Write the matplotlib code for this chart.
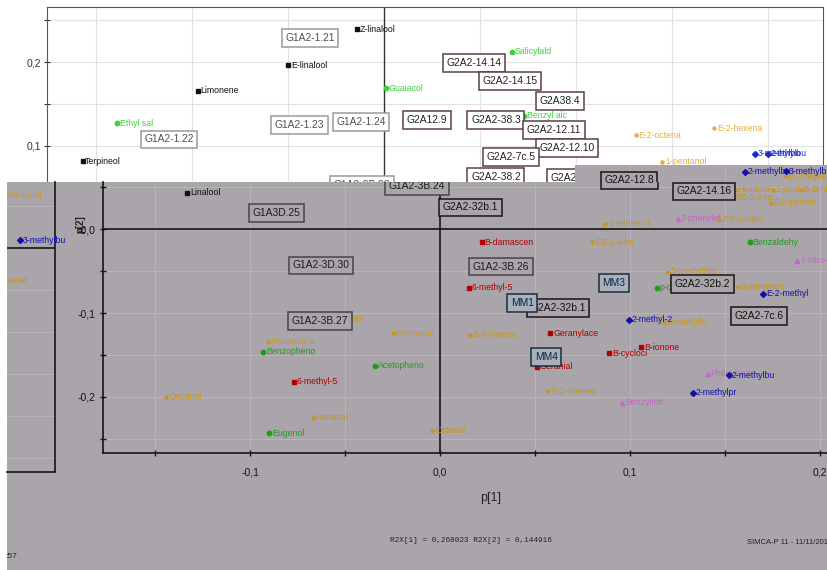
import matplotlib
matplotlib.use('Agg')
import matplotlib.pyplot as plt
from matplotlib.patches import Rectangle
from matplotlib.transforms import Bbox, TransformedBbox
from matplotlib import font_manager

W, H = 828, 570
GRAY = '#aaa5ab'
GRID_GRAY = '#b9b4ba'

# narrowest sans family on the machine
installed = {f.name for f in font_manager.fontManager.ttflist}
FACE = next((f for f in ['Liberation Sans Narrow', 'Arial Narrow', 'Liberation Sans']
             if f in installed), 'DejaVu Sans')
plt.rcParams['font.family'] = [FACE, 'DejaVu Sans']

# ---- main loading window p[1] / p[2] ----
main_black_names = ['Linalool']
main_black_x = [-0.133]
main_black_y = [0.043]

main_orange_names = ['Hexanal', '1-penten-3', '2-pentylfu', 'EE-2,4-he', 'E-2-penten',
                     'E-2-hepten', 'Z-2-penten', '1-penten-3', 'EZ-2,4-he', '3-methylthio',
                     '3-pentanon', '2-methylfu', 'Z-3-hexena', 'Pentanoic', 'Hexanoic a',
                     '2-ethylhex', 'Decanal', 'Nonanal', 'Octanal', 'E-2-nonena']
main_orange_x = [0.155, 0.175, 0.190, 0.154, 0.174,
                 0.182, 0.147, 0.087, 0.080, 0.120,
                 0.157, 0.118, 0.016, -0.025, -0.0905,
                 -0.062, -0.144, -0.067, -0.004, 0.057]
main_orange_y = [0.047, 0.047, 0.047, 0.038, 0.031,
                 0.063, 0.011, 0.006, -0.0155, -0.051,
                 -0.069, -0.111, -0.126, -0.124, -0.1345,
                 -0.106, -0.200, -0.225, -0.2405, -0.193]

main_green_names = ['Benzaldehy', 'p-cymene', 'Benzopheno', 'Acetopheno', 'Eugenol']
main_green_x = [0.163, 0.114, -0.093, -0.034, -0.090]
main_green_y = [-0.0155, -0.070, -0.146, -0.163, -0.243]

main_red_names = ['B-damascen', '6-methyl-5', 'Geranylace', 'B-ionone', 'B-cycloci',
                  'Geranial', '6-methyl-5']
main_red_x = [0.022, 0.015, 0.058, 0.106, 0.089, 0.051, -0.077]
main_red_y = [-0.0155, -0.070, -0.124, -0.1405, -0.148, -0.164, -0.182]

main_pink_names = ['2-phenylet', '1-nitro-2', 'Phenylace', 'Benzylnitr']
main_pink_x = [0.125, 0.188, 0.141, 0.096]
main_pink_y = [0.012, -0.038, -0.1726, -0.207]

main_blue_names = ['E-2-methyl', '2-methyl-2', '2-methylbu', '2-methylpr', '2-methylbu',
                   '3-methylbu']
main_blue_x = [0.170, 0.0995, 0.152, 0.133, 0.1605, 0.182]
main_blue_y = [-0.077, -0.108, -0.174, -0.195, 0.068, 0.069]

main_g2_names = ['G2A2-14.16', 'G2A2-32b.1', 'G2A2-32b.2', 'G2A2-32b.1', 'G2A2-7c.6', 'G2A2-12.8']
main_g2_x = [0.139, 0.016, 0.138, 0.062, 0.168, 0.0995]
main_g2_y = [0.045, 0.026, -0.0655, -0.094, -0.1036, 0.058]

main_g1_names = ['G1A2-3B.24', 'G1A3D.25', 'G1A2-3D.30', 'G1A2-3B.26', 'G1A2-3B.27']
main_g1_x = [-0.0121, -0.0863, -0.0626, 0.0321, -0.0632]
main_g1_y = [0.0512, 0.019, -0.043, -0.045, -0.1095]

main_mm_names = ['MM3', 'MM1', 'MM4']
main_mm_x = [0.0916, 0.0432, 0.0558]
main_mm_y = [-0.0643, -0.0881, -0.1524]

# ---- upper window ----
top_black_names = ['Z-linalool', 'E-linalool', 'Limonene', 'Terpineol']
top_black_x = [-0.014, -0.050, -0.097, -0.157]
top_black_y = [0.239, 0.196, 0.1655, 0.082]

top_green_names = ['Guaiacol', 'Ethyl sal', 'Methyl sal', 'Salicylald', 'Benzyl alc']
top_green_x = [0.001, -0.139, -0.1255, 0.0667, 0.073]
top_green_y = [0.169, 0.127, 0.112, 0.212, 0.136]

top_orange_names = ['E-2-octena', 'E-2-hexena', '1-pentanol']
top_orange_x = [0.131, 0.172, 0.145]
top_orange_y = [0.113, 0.121, 0.081]

top_blue_names = ['3-methylbu', '2-ethylbu']
top_blue_x = [0.193, 0.200]
top_blue_y = [0.0905, 0.0905]

top_g1_names = ['G1A2-1.21', 'G1A2-1.22', 'G1A2-1.23', 'G1A2-1.24', 'G1A2-3B.28']
top_g1_x = [-0.0385, -0.112, -0.044, -0.012, -0.0115]
top_g1_y = [0.2286, 0.108, 0.125, 0.1286, 0.0536]

top_g2_names = ['G2A2-14.14', 'G2A2-14.15', 'G2A12.9', 'G2A2-38.3', 'G2A38.4',
                'G2A2-12.11', 'G2A2-12.10', 'G2A2-7c.5', 'G2A2-38.2', 'G2A2-12.9']
top_g2_x = [0.0469, 0.0656, 0.0224, 0.0583, 0.0917, 0.0885, 0.0953, 0.0661, 0.0583, 0.0995]
top_g2_y = [0.1988, 0.1774, 0.131, 0.131, 0.1536, 0.119, 0.0976, 0.0869, 0.0631, 0.0619]

# ---- left window ----
left_orange_names = ['Pentanal', 'Nonanal']
left_orange_x = [0.1639, 0.1566]
left_orange_y = [0.0631, -0.0381]
left_blue_names = ['3-methylbu']
left_blue_x = [0.1718]
left_blue_y = [0.0095]


def px_box(x0, y0, x1, y1):
    return [x0 / W, 1 - y1 / H, (x1 - x0) / W, (y1 - y0) / H]


def put_points(ax, xs, ys, names, color, marker, ms, fs=6.3):
    ax.plot(xs, ys, ls='none', marker=marker, ms=ms, color=color, mec=color, zorder=3)
    for x, y, n in zip(xs, ys, names):
        ax.annotate(n, (x, y), xytext=(2.0, 0), textcoords='offset points',
                    ha='left', va='center', fontsize=fs, color=color,
                    clip_on=True, annotation_clip=False, zorder=3)


def put_boxes(ax, xs, ys, names, fc, ec, tc, fs=7.4):
    for x, y, n in zip(xs, ys, names):
        ax.text(x, y, n, ha='center', va='center', fontsize=fs, color=tc, clip_on=True,
                zorder=4, bbox=dict(boxstyle='square,pad=0.35', fc=fc, ec=ec, lw=1.1))


def grid_lines(ax, xs, ys, color, lw=0.8):
    for v in xs:
        ax.axvline(v, color=color, lw=lw, zorder=1)
    for v in ys:
        ax.axhline(v, color=color, lw=lw, zorder=1)


def draw_main(ax):
    grid_lines(ax, [-0.15, -0.1, -0.05, 0.05, 0.1, 0.15, 0.2],
               [-0.25, -0.2, -0.15, -0.1, -0.05, 0.05], GRID_GRAY)
    ax.axhline(0, color='#151515', lw=1.2, zorder=2)
    ax.axvline(0, color='#151515', lw=1.2, zorder=2)
    put_points(ax, main_orange_x, main_orange_y, main_orange_names, '#c8961c', 'o', 2.2)
    put_points(ax, main_black_x, main_black_y, main_black_names, '#111111', 's', 3)
    put_points(ax, main_green_x, main_green_y, main_green_names, '#1c9e1c', 'o', 3.2)
    put_points(ax, main_red_x, main_red_y, main_red_names, '#b00000', 's', 3)
    put_points(ax, main_pink_x, main_pink_y, main_pink_names, '#c068c4', '^', 3)
    put_points(ax, main_blue_x, main_blue_y, main_blue_names, '#1010a8', 'D', 3)
    put_boxes(ax, main_g1_x, main_g1_y, main_g1_names, GRAY, '#4a4448', '#1a1a1a')
    put_boxes(ax, main_g2_x, main_g2_y, main_g2_names, GRAY, '#1e1212', '#111111')
    put_boxes(ax, main_mm_x, main_mm_y, main_mm_names, '#a7b1bc', '#1c2c3c', '#0e2440')


fig = plt.figure(figsize=(W / 100, H / 100), dpi=100)
fig.patch.set_facecolor('white')

# upper white window
ax_top = fig.add_axes(px_box(47, 7, 823, 182), zorder=0)
ax_top.set_xlim(-0.1755, 0.2286)
ax_top.set_ylim(0.0571, 0.2655)
ax_top.set_facecolor('white')
grid_lines(ax_top, [-0.15, -0.1, -0.05, 0.05, 0.1, 0.15, 0.2], [0.1, 0.15, 0.2, 0.25], '#e2e2e2')
ax_top.axvline(0, color='#333333', lw=1.0, zorder=2)
put_points(ax_top, top_black_x, top_black_y, top_black_names, '#111111', 's', 3)
put_points(ax_top, top_green_x, top_green_y, top_green_names, '#3cd43c', 'o', 3.2)
put_points(ax_top, top_orange_x, top_orange_y, top_orange_names, '#e0b048', 'o', 2.2)
put_points(ax_top, top_blue_x, top_blue_y, top_blue_names, '#1a2cc8', 'D', 3)
put_boxes(ax_top, top_g1_x, top_g1_y, top_g1_names, 'white', '#9a9a9a', '#505050')
put_boxes(ax_top, top_g2_x, top_g2_y, top_g2_names, 'white', '#5a4040', '#222222')
ax_top.set_xticks([])
ax_top.set_yticks([0.1, 0.15, 0.2, 0.25], ['0,1', '', '0,2', ''])
ax_top.tick_params(axis='y', direction='inout', length=4, pad=2, labelsize=7.5, colors='#333333')
ax_top.spines['bottom'].set_visible(False)
for s in ['top', 'left', 'right']:
    ax_top.spines[s].set_color('#555555')

# gray backdrop and footer
ax_bg = fig.add_axes([0, 0, 1, 1], zorder=1)
ax_bg.set_xlim(0, W)
ax_bg.set_ylim(H, 0)
ax_bg.set_axis_off()
ax_bg.add_patch(Rectangle((7, 182), W - 7, H - 182, fc=GRAY, ec='none'))
ax_bg.text(491, 498, 'p[1]', ha='center', va='center', fontsize=9, color='#222222')
ax_bg.text(80, 224, 'p[2]', ha='center', va='center', fontsize=7, rotation=90,
           color='#222222', fontweight='bold')
ax_bg.text(390, 540, 'R2X[1] = 0,268023 R2X[2] = 0,144916', ha='left', va='center',
           fontsize=5.6, family=['Liberation Mono', 'DejaVu Sans Mono'], color='#222222')
ax_bg.text(747, 543, 'SIMCA-P 11 - 11/11/2016 16:57', ha='left', va='center',
           fontsize=5.5, color='#222222')
ax_bg.text(5, 557, ':57', ha='left', va='center', fontsize=6, color='#222222')

# left side window
ax_left = fig.add_axes(px_box(7, 182, 55, 472), zorder=2)
ax_left.set_facecolor('none')
ax_left.set_xlim(0.165, 0.1903)
ax_left.set_ylim(-0.2667, 0.0786)
grid_lines(ax_left, [], [-0.25, -0.2, -0.15, -0.1, -0.05, 0.05], GRID_GRAY)
ax_left.axhline(0, color='#151515', lw=1.2, zorder=2)
put_points(ax_left, left_orange_x, left_orange_y, left_orange_names, '#c8961c', 'o', 2.2)
put_points(ax_left, left_blue_x, left_blue_y, left_blue_names, '#1010a8', 'D', 3)
# labels here run over the right frame, only the left edge cuts them
left_clip = TransformedBbox(Bbox.from_extents(7 / W, 1 - 472 / H, 103 / W, 1 - 182 / H),
                            fig.transFigure)
for t in ax_left.texts:
    t.set_clip_path(None)
    t.set_clip_box(left_clip)
ax_left.set_xticks([])
ax_left.set_yticks([])
for s in ['top', 'left']:
    ax_left.spines[s].set_visible(False)
for s in ['right', 'bottom']:
    ax_left.spines[s].set_color('#151515')
    ax_left.spines[s].set_linewidth(1.2)

# main window
ax_main = fig.add_axes(px_box(103, 182, 840, 453), zorder=3)
ax_main.set_facecolor('none')
ax_main.set_xlim(-0.1774, 0.2105)
ax_main.set_ylim(-0.2667, 0.056)
draw_main(ax_main)
ax_main.set_xticks([-0.1, 0.0, 0.1, 0.2], ['-0,1', '0,0', '0,1', '0,2'])
ax_main.set_xticks([-0.15, -0.05, 0.05, 0.15], minor=True)
ax_main.set_yticks([-0.2, -0.1, 0.0], ['-0,2', '-0,1', '-0,0'])
ax_main.set_yticks([-0.25, -0.15, -0.05, 0.05], minor=True)
ax_main.tick_params(which='both', direction='inout', length=5, width=1, colors='#151515',
                    labelsize=7.5)
ax_main.tick_params(axis='x', pad=8)
ax_main.tick_params(axis='y', pad=3)
for s in ['top', 'right']:
    ax_main.spines[s].set_visible(False)
for s in ['left', 'bottom']:
    ax_main.spines[s].set_color('#151515')
    ax_main.spines[s].set_linewidth(1.2)

# strip of the main window that reaches higher on the right
ax_step = fig.add_axes(px_box(575, 165, 828, 182), zorder=4)
ax_step.set_xlim(0.0711, 0.2042)
ax_step.set_ylim(0.056, 0.0762)
ax_step.set_axis_off()
ax_step.add_patch(Rectangle((0, 0), 1, 1, transform=ax_step.transAxes, fc=GRAY, ec='none',
                            zorder=0))
draw_main(ax_step)

fig.savefig('out.png', dpi=100)
